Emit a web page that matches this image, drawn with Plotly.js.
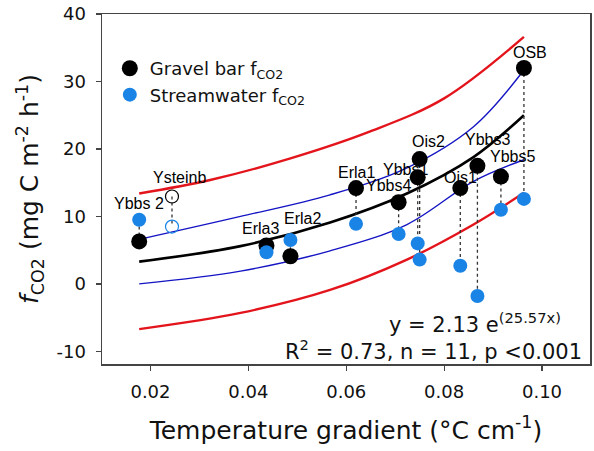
<!DOCTYPE html>
<html>
<head>
<meta charset="utf-8">
<script src="https://cdn.plot.ly/plotly-3.0.1.min.js"></script>
<style>html,body{margin:0;padding:0;background:#fff;}#chart{width:594px;height:451px;}</style>
</head>
<body>
<div id="chart"></div>
<script>
// Sites included in the fit (n = 11)
const sites    = ['Ybbs 2','Erla3','Erla2','Erla1','Ybbs4','Ybbs1','Ois2','Ois1','Ybbs3','Ybbs5','OSB'];
const gradient = [0.0177, 0.0437, 0.0486, 0.0620, 0.0707, 0.0746, 0.0750, 0.0833, 0.0868, 0.0916, 0.0963];
const gravel   = [6.3, 5.7, 4.1, 14.2, 12.1, 15.8, 18.5, 14.2, 17.5, 15.9, 32.0];
const stream   = [9.5, 4.7, 6.5, 8.9, 7.4, 6.0, 3.6, 2.7, -1.8, 11.0, 12.6];

// Excluded site (open symbols)
const exSite     = ['Ysteinb'];
const exGradient = [0.0244];
const exGravel   = [12.95];
const exStream   = [8.5];

// Fitted curve and bands
const fitX     = [0.0177, 0.0384, 0.0567, 0.0724, 0.0860, 0.0963];
const fitY     = [3.3, 5.6, 9.1, 13.4, 18.8, 25.0];
const ciUpper  = [6.6, 10.0, 13.2, 17.2, 23.3, 31.7];
const ciLower  = [0.0, 1.9, 4.9, 8.8, 15.2, 18.4];
const piLower  = [-6.7, -4.3, -0.9, 3.6, 8.8, 13.5];
const piUpperX = [0.0177, 0.0322, 0.0486, 0.0649, 0.0800, 0.0963];
const piUpper  = [13.4, 15.4, 18.6, 22.6, 27.5, 36.6];

const xTicks = [0.02, 0.04, 0.06, 0.08, 0.10];
const xTickText = ['0.02', '0.04', '0.06', '0.08', '0.10'];
const yTicks = [-10, 0, 10, 20, 30, 40];
const yTickText = ['-10', '0', '10', '20', '30', '40'];

// label offsets (px) relative to gravel-bar point: style only
const labelShift = {
  'Ybbs 2':[0,38], 'Erla3':[-6,17], 'Erla2':[12,38], 'Erla1':[0,16], 'Ybbs4':[-10,17],
  'Ybbs1':[-12,8], 'Ois2':[9,18], 'Ois1':[0,11], 'Ybbs3':[10,26], 'Ybbs5':[12,20], 'OSB':[6,15],
  'Ysteinb':[8,19]
};

const BLUE = '#1a84e6';
const RED = '#e3141b';
const NAVY = '#1414c4';

// dotted connectors
const cx = [], cy = [];
const allX = gradient.concat(exGradient), allG = gravel.concat(exGravel), allS = stream.concat(exStream);
for (let i = 0; i < allX.length; i++) { cx.push(allX[i], allX[i], null); cy.push(allG[i], allS[i], null); }

const line = (x, y, color, width) => ({x, y, type:'scatter', mode:'lines', showlegend:false,
  line:{color, width, shape:'spline', smoothing:1}, hoverinfo:'skip'});

const data = [
  line(piUpperX, piUpper, RED, 2.4),
  line(fitX, piLower, RED, 2.4),
  line(fitX, ciUpper, NAVY, 1.4),
  line(fitX, ciLower, NAVY, 1.4),
  line(fitX, fitY, '#000', 2.6),
  {x:cx, y:cy, type:'scatter', mode:'lines', showlegend:false, line:{color:'#333', width:1.3, dash:'dot'}},
  {x:gradient, y:gravel, type:'scatter', mode:'markers', name:'Gravel bar f<sub>CO2</sub>',
   marker:{color:'#000', size:16}},
  {x:gradient, y:stream, type:'scatter', mode:'markers', name:'Streamwater f<sub>CO2</sub>',
   marker:{color:BLUE, size:14}},
  {x:exGradient, y:exStream, type:'scatter', mode:'markers', showlegend:false,
   marker:{color:BLUE, size:13, symbol:'circle-open', line:{width:1.2}}},
  {x:exGradient, y:exGravel, type:'scatter', mode:'markers', showlegend:false,
   marker:{color:'#000', size:13, symbol:'circle-open', line:{width:1.2}}}
];

const annotations = [];
const labSites = sites.concat(exSite);
for (let i = 0; i < labSites.length; i++) {
  const s = labelShift[labSites[i]];
  annotations.push({x:allX[i], y:allG[i], text:labSites[i], showarrow:false, xshift:s[0], yshift:s[1],
    font:{family:'Liberation Sans, Arial, sans-serif', size:16, color:'#000'}});
}
annotations.push({xref:'paper', yref:'paper', x:1, y:0.118, xanchor:'right', yanchor:'middle', xshift:-27,
  text:'y = 2.13 e<sup>(25.57x)</sup>', showarrow:false, font:{family:'DejaVu Sans', size:21, color:'#111'}});
annotations.push({xref:'paper', yref:'paper', x:1, y:0.041, xanchor:'right', yanchor:'middle', xshift:-6,
  text:'R<sup>2</sup> = 0.73, n = 11, p &lt;0.001', showarrow:false, font:{family:'DejaVu Sans', size:21, color:'#111'}});

const layout = {
  width:594, height:451,
  margin:{l:102, r:4, t:14, b:87},
  paper_bgcolor:'#fff', plot_bgcolor:'#fff',
  font:{family:'DejaVu Sans', color:'#111'},
  showlegend:true,
  legend:{x:0.016, y:0.897, xanchor:'left', yanchor:'top', bgcolor:'rgba(0,0,0,0)',
    font:{family:'DejaVu Sans', size:18, color:'#111'}, traceorder:'normal'},
  xaxis:{range:[0.0101, 0.1098], tickvals:xTicks, ticktext:xTickText, ticks:'outside', ticklen:5, tickwidth:1.2,
    tickcolor:'#444', showline:true, linecolor:'#444', linewidth:1.5, mirror:true, showgrid:false, zeroline:false,
    tickfont:{size:18, family:'DejaVu Sans', color:'#111'}, ticklabelstandoff:6,
    title:{text:'Temperature gradient (°C cm<sup>-1</sup>)', font:{size:25, family:'DejaVu Sans', color:'#111'}, standoff:20}},
  yaxis:{range:[-11.87, 40], tickvals:yTicks, ticktext:yTickText, ticks:'outside', ticklen:5, tickwidth:1.2,
    tickcolor:'#444', showline:true, linecolor:'#444', linewidth:1.5, mirror:true, showgrid:false, zeroline:false,
    tickfont:{size:18, family:'DejaVu Sans', color:'#111'}, ticklabelstandoff:6,
    title:{text:'<i>f</i><sub>CO2</sub> (mg C m<sup>-2</sup> h<sup>-1</sup>)', font:{size:25, family:'DejaVu Sans', color:'#111'}, standoff:10}},
  annotations
};

Plotly.newPlot('chart', data, layout, {staticPlot:true, displayModeBar:false});
</script>
</body>
</html>
